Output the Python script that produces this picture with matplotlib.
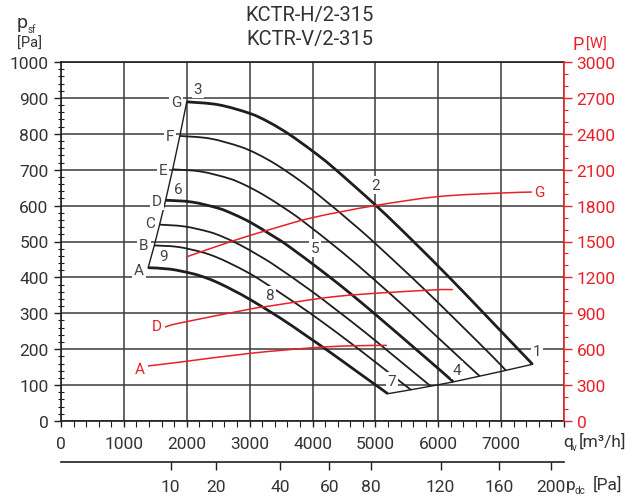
import numpy as np
import matplotlib
matplotlib.use('Agg')
import matplotlib.pyplot as plt
from matplotlib.ticker import MultipleLocator, NullLocator
from matplotlib.path import Path
from matplotlib.patches import PathPatch

plt.rcParams['font.family'] = ['Roboto', 'DejaVu Sans']

# fan curves, static pressure p_sf [Pa] against air flow q_v [m3/h], speeds A..G
q_A = [1386, 1733, 2079, 2287, 2512, 2772, 3001, 3486, 3881, 4276, 4657, 5031, 5198]
p_A = [427, 423, 411, 400, 384, 361, 339, 287, 240, 192, 144, 97, 76]
q_B = [1484, 1855, 2226, 2449, 2690, 2968, 3213, 3732, 4155, 4578, 4986, 5387, 5565]
p_B = [489, 485, 471, 458, 439, 414, 388, 328, 276, 221, 166, 111, 87]
q_C = [1568, 1960, 2352, 2587, 2842, 3136, 3395, 3944, 4390, 4837, 5268, 5692, 5880]
p_C = [547, 542, 527, 512, 491, 462, 434, 367, 308, 247, 185, 124, 97]
q_D = [1664, 2080, 2496, 2746, 3016, 3328, 3603, 4185, 4659, 5133, 5591, 6040, 6240]
p_D = [615, 610, 593, 576, 553, 520, 489, 413, 347, 277, 208, 140, 109]
q_E = [1776, 2220, 2664, 2930, 3219, 3552, 3845, 4467, 4973, 5479, 5967, 6447, 6660]
p_E = [701, 695, 676, 657, 630, 593, 557, 471, 395, 316, 237, 159, 125]
q_F = [1890, 2363, 2835, 3119, 3426, 3780, 4092, 4753, 5292, 5831, 6350, 6861, 7075]
p_F = [794, 787, 765, 744, 714, 672, 630, 533, 447, 358, 269, 180, 141]
q_G = [2000, 2500, 3000, 3300, 3625, 4000, 4330, 5030, 5600, 6170, 6720, 7260, 7500]
p_G = [889, 881, 857, 833, 799, 752, 706, 597, 501, 401, 301, 202, 158]
speeds = ['A', 'B', 'C', 'D', 'E', 'F', 'G']
thick = ['A', 'D', 'G']

# power curves P [W]
qP_A = [1383, 1892, 3000, 4000, 4600, 5183]
P_A = [460, 492, 565, 612, 628, 632]
qP_D = [1653, 1892, 3005, 3323, 4436, 5866, 6232]
P_D = [785, 819, 935, 961, 1044, 1094, 1098]
qP_G = [1987, 2734, 3323, 4006, 4992, 5994, 6995, 7488]
P_G = [1370, 1505, 1600, 1700, 1800, 1875, 1905, 1913]

# point labels
num_text = ['1', '2', '3', '4', '5', '6', '7', '8', '9']
num_q = [7568, 5008, 2178, 6296, 4038, 1860, 5262, 3323, 1638]
num_p = [195, 657, 925, 142, 482, 646, 111, 351, 460]
let_q = [1240, 1320, 1415, 1526, 1622, 1733, 1828]
let_p = [420, 490, 552, 613, 699, 794, 889]
red_text = ['A', 'D', 'G']
red_q = [1256, 1526, 7615]
red_P = [434, 794, 1913]

# dynamic pressure scale
pdc_ticks = [10, 20, 40, 60, 80, 120, 160, 200]
PDC_COEF = 551.0

fan_q = [q_A, q_B, q_C, q_D, q_E, q_F, q_G]
fan_p = [p_A, p_B, p_C, p_D, p_E, p_F, p_G]

RED = '#e8202a'
DARK = '#1e1e1e'
TXT = '#333333'


def smooth_line(axis, xs, ys, **kw):
    # draw through the points with a Catmull-Rom curve (as bezier segments)
    pts = np.column_stack([xs, ys]).astype(float)
    ext = np.vstack([pts[0], pts, pts[-1]])
    verts = [pts[0]]
    codes = [Path.MOVETO]
    for i in range(1, len(ext) - 2):
        c1 = ext[i] + (ext[i + 1] - ext[i - 1]) / 6.0
        c2 = ext[i + 1] - (ext[i + 2] - ext[i]) / 6.0
        verts += [c1, c2, ext[i + 1]]
        codes += [Path.CURVE4] * 3
    axis.add_patch(PathPatch(Path(verts, codes), fill=False, capstyle='butt', **kw))


fig = plt.figure(figsize=(6.41, 5.02), dpi=100)
ax = fig.add_axes([61/641, 1-422/502, (564-61)/641, (422-63)/502])
ax.set_xlim(0, 8000)
ax.set_ylim(0, 1000)
ax.set_xticks(range(0, 8001, 1000))
ax.set_xticklabels([str(v) for v in range(0, 8000, 1000)] + [''])
ax.xaxis.set_minor_locator(MultipleLocator(200))
ax.set_yticks(range(0, 1001, 100))
ax.yaxis.set_minor_locator(MultipleLocator(20))
ax.grid(True, which='major', color='#3a3a3a', lw=1.1)
ax.set_axisbelow(True)
ax.tick_params(axis='x', which='major', direction='out', length=4, width=1, colors=DARK,
               labelsize=12.5, labelcolor=TXT, pad=7)
ax.tick_params(axis='x', which='minor', direction='out', length=4, width=0.8, colors=DARK)
ax.tick_params(axis='y', which='major', direction='out', length=5, width=1, colors=DARK,
               labelsize=12.5, labelcolor=TXT, pad=4)
ax.tick_params(axis='y', which='minor', direction='inout', length=5, width=0.8, colors=DARK)
for s in ['left', 'bottom', 'top']:
    ax.spines[s].set_color(DARK)
    ax.spines[s].set_linewidth(1.2)
ax.spines['right'].set_visible(False)

for name, qq, pp in zip(speeds, fan_q, fan_p):
    smooth_line(ax, qq, pp, edgecolor=DARK, lw=2.0 if name in thick else 1.3)
ax.plot([c[0] for c in fan_q], [c[0] for c in fan_p], color=DARK, lw=1.0)
ax.plot([c[-1] for c in fan_q], [c[-1] for c in fan_p], color=DARK, lw=1.0)

ax2 = ax.twinx()
ax2.set_ylim(0, 3000)
ax2.set_yticks(range(0, 3001, 300))
ax2.yaxis.set_minor_locator(MultipleLocator(100))
ax2.tick_params(axis='y', which='major', direction='out', length=6, width=1, colors=RED,
                labelsize=12.5, labelcolor=RED, pad=3)
ax2.tick_params(axis='y', which='minor', direction='out', length=3, width=0.8, colors=RED)
for s in ['left', 'bottom', 'top']:
    ax2.spines[s].set_visible(False)
ax2.spines['right'].set_color(RED)
ax2.spines['right'].set_linewidth(1.2)

smooth_line(ax2, qP_A, P_A, edgecolor=RED, lw=1.1)
smooth_line(ax2, qP_D, P_D, edgecolor=RED, lw=1.1)
smooth_line(ax2, qP_G, P_G, edgecolor=RED, lw=1.1)

box = dict(boxstyle='square,pad=0.12', fc='white', ec='none')
for t, q, p in zip(num_text, num_q, num_p):
    ax2.text(q, p, t, transform=ax.transData, ha='center', va='center',
             fontsize=11, color='#444444', bbox=box)
for t, q, p in zip(speeds, let_q, let_p):
    ax2.text(q, p, t, transform=ax.transData, ha='center', va='center',
             fontsize=11, color='#444444', bbox=box)
for t, q, P in zip(red_text, red_q, red_P):
    ax2.text(q, P, t, ha='center', va='center', fontsize=11, color=RED, bbox=box)

# dynamic pressure axis below
sec = ax.secondary_xaxis(-0.114, functions=(lambda q: (np.asarray(q) / PDC_COEF) ** 2,
                                            lambda p: PDC_COEF * np.sqrt(np.abs(p))))
sec.set_xticks(pdc_ticks)
sec.set_xticklabels([str(v) for v in pdc_ticks])
sec.xaxis.set_minor_locator(NullLocator())
sec.tick_params(axis='x', direction='out', length=6, width=1, colors=DARK,
                labelsize=12.5, labelcolor=TXT, pad=6)
sec.spines['bottom'].set_color(DARK)
sec.spines['bottom'].set_linewidth(1.2)

# titles and axis names
fig.text(310/641, 1-16/502, 'KCTR-H/2-315', ha='center', va='center', fontsize=14.5, color=TXT)
fig.text(310/641, 1-40/502, 'KCTR-V/2-315', ha='center', va='center', fontsize=14.5, color=TXT)

fig.text(17/641, 1-28/502, 'p', ha='left', va='baseline', fontsize=14, color=TXT)
fig.text(27.5/641, 1-33/502, 'sf', ha='left', va='baseline', fontsize=7, color=TXT)
fig.text(30/641, 1-44/502, '[Pa]', ha='center', va='center', fontsize=10.5, color=TXT)

fig.text(573/641, 1-45/502, 'P', ha='left', va='center', fontsize=13, color=RED)
fig.text(586/641, 1-45/502, '[W]', ha='left', va='center', fontsize=10.5, color=RED)

fig.text(563/641, 1-447/502, 'q', ha='left', va='baseline', fontsize=12.5, color=TXT)
fig.text(572/641, 1-451/502, 'v', ha='left', va='baseline', fontsize=7, color=TXT)
fig.text(579/641, 1-447/502, '[m³/h]', ha='left', va='baseline', fontsize=12.5, color=TXT)

fig.text(566/641, 1-490/502, 'p', ha='left', va='baseline', fontsize=12.5, color=TXT)
fig.text(574.5/641, 1-494/502, 'dc', ha='left', va='baseline', fontsize=7, color=TXT)
fig.text(593/641, 1-490/502, '[Pa]', ha='left', va='baseline', fontsize=12.5, color=TXT)

fig.savefig('out.png', dpi=100)
